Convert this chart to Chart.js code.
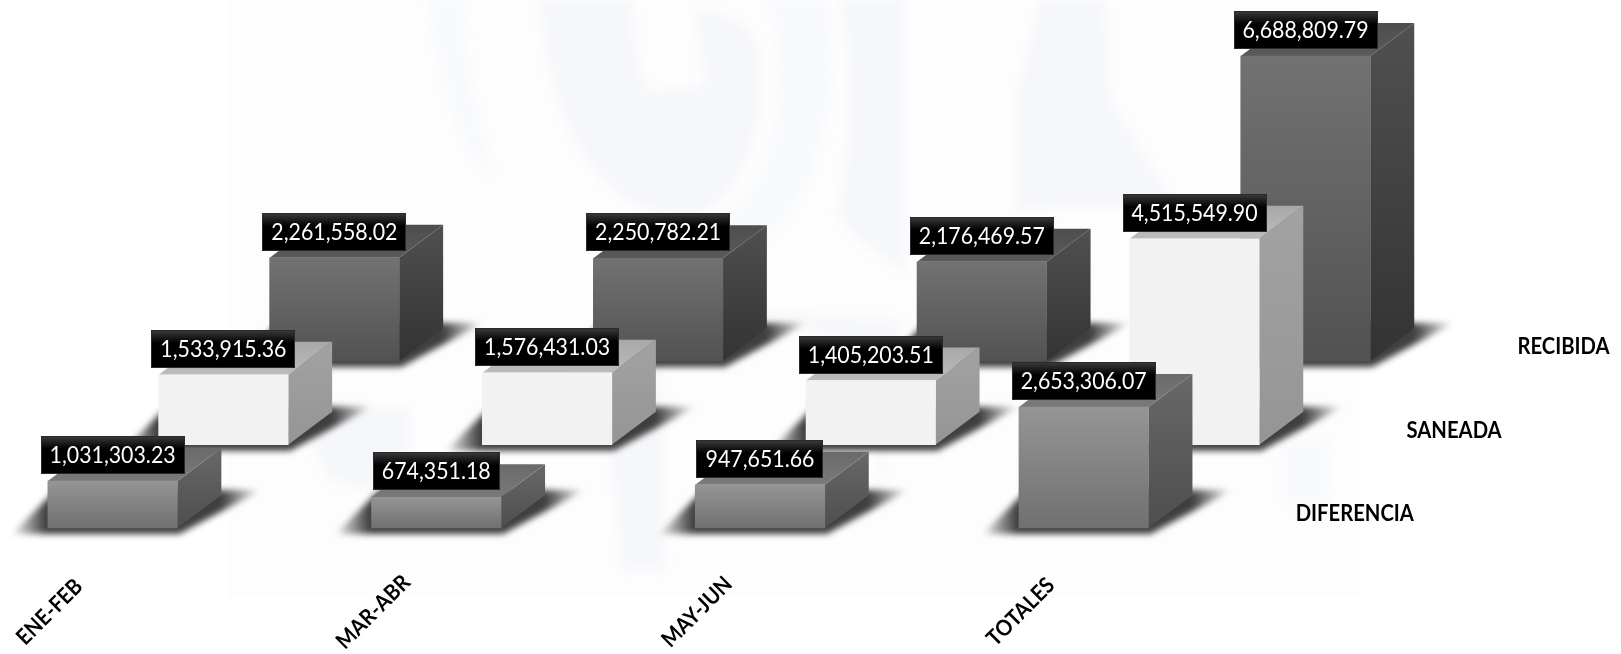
<!DOCTYPE html>
<html><head><meta charset="utf-8">
<style>html,body{margin:0;padding:0;background:#fff}canvas{display:block}</style>
<script src="https://cdn.jsdelivr.net/npm/chart.js@4/dist/chart.umd.min.js"></script>
</head><body><canvas id="c" width="1621" height="654"></canvas>
<script>
const categories = ['ENE-FEB','MAR-ABR','MAY-JUN','TOTALES'];
const seriesNames = ['DIFERENCIA','SANEADA','RECIBIDA'];
const diferencia = [1031303.23, 674351.18, 947651.66, 2653306.07];
const saneada = [1533915.36, 1576431.03, 1405203.51, 4515549.90];
const recibida = [2261558.02, 2250782.21, 2176469.57, 6688809.79];

const W = 1621, H = 654, PXM = 45.6 / 1e6, PITCH = 323.7, DX = 44, DY = 33, NARROW = 0.92;
const rows = [
  {vals: diferencia, cx: 112.6, base: 528,
   front:['#959595','#707070'], side:['#686868','#4e4e4e'], top:['#6a6a6a','#7a7a7a']},
  {vals: saneada, cx: 223.4, base: 444.7,
   front:['#f2f2f2','#f2f2f2'], side:['#a2a2a2','#959595'], top:['#a8a8a8','#bcbcbc']},
  {vals: recibida, cx: 334.4, base: 361,
   front:['#727272','#525252'], side:['#505050','#333333'], top:['#4e4e4e','#5a5a5a']}
];
const fmt = v => v.toLocaleString('en-US',{minimumFractionDigits:2,maximumFractionDigits:2});

const scales = {};
rows.forEach((r,i)=>{
  scales['x'+i] = {type:'linear', display:false, offset:false, grid:{offset:false}, min:-r.cx/PITCH, max:(W-r.cx)/PITCH};
  scales['y'+i] = {type:'linear', display:false, min:(r.base-H)/PXM, max:r.base/PXM};
});

function vGrad(ctx, y0, y1, cols){
  if(!Number.isFinite(y0) || !Number.isFinite(y1)) return cols[0];
  const g = ctx.createLinearGradient(0,y0,0,y1);
  g.addColorStop(0,cols[0]); g.addColorStop(1,cols[1]); return g;
}
function poly(ctx, pts){
  ctx.beginPath(); pts.forEach((p,i)=> i?ctx.lineTo(p[0],p[1]):ctx.moveTo(p[0],p[1])); ctx.closePath();
}
function narrowText(c, t, x, y){
  c.save(); c.translate(x,y); c.scale(NARROW,1); c.fillText(t,0,0); c.restore();
}

const watermark = {
  id:'watermark',
  beforeDraw(chart){
    const c = chart.ctx; c.save();
    c.fillStyle='#fff'; c.fillRect(0,0,W,H);
    c.fillStyle='#fdfdfd'; c.fillRect(228,0,1132,598);
    c.filter='blur(4px)';
    const shape=(col,fn)=>{c.fillStyle=col;c.beginPath();fn();c.closePath();c.fill();};
    const A='#f7f9fc', B='#f6f7fa';
    shape(A,()=>{c.moveTo(430,0);c.bezierCurveTo(440,90,460,150,490,175);c.lineTo(485,140);c.bezierCurveTo(470,100,465,50,463,0);});
    shape(B,()=>{c.moveTo(540,0);c.bezierCurveTo(545,100,590,215,680,215);c.bezierCurveTo(740,215,765,130,760,60);c.bezierCurveTo(755,30,735,10,695,12);c.lineTo(705,85);c.lineTo(650,92);c.bezierCurveTo(635,70,633,30,633,0);});
    shape(A,()=>{c.moveTo(770,0);c.lineTo(825,0);c.bezierCurveTo(850,130,800,270,670,285);c.lineTo(668,240);c.bezierCurveTo(760,230,800,130,770,0);});
    shape(B,()=>{c.moveTo(840,0);c.lineTo(905,0);c.lineTo(905,270);c.bezierCurveTo(880,260,850,230,838,215);c.bezierCurveTo(850,150,855,70,840,0);});
    shape(B,()=>{c.moveTo(1040,0);c.lineTo(1105,0);c.lineTo(1110,100);c.lineTo(1175,205);c.lineTo(1015,210);c.lineTo(1015,100);});
    shape(B,()=>{c.moveTo(600,340);c.lineTo(660,340);c.lineTo(665,570);c.lineTo(622,570);});
    shape(B,()=>{c.moveTo(290,400);c.lineTo(410,410);c.lineTo(410,500);c.lineTo(330,480);});
    shape(B,()=>{c.moveTo(740,310);c.lineTo(900,320);c.lineTo(880,500);c.lineTo(880,350);});
    shape(A,()=>{c.moveTo(1285,440);c.lineTo(1327,440);c.lineTo(1327,505);c.lineTo(1285,505);});
    c.restore();
  }
};

const solid3d = {
  id:'solid3d',
  beforeDatasetDraw(chart, args){
    const c = chart.ctx, row = rows[args.index];
    args.meta.data.forEach(bar=>{
      const w = bar.width, L = bar.x-w/2, R = bar.x+w/2, T = bar.y, B = bar.base;
      c.save();
      c.filter='blur(3px)';
      const g = c.createLinearGradient(L-38,0,R+84,0);
      const span = R+84-(L-38);
      g.addColorStop(0,'rgba(30,30,30,0)');
      g.addColorStop(36/span,'rgba(30,30,30,.85)');
      g.addColorStop((span-40)/span,'rgba(30,30,30,.85)');
      g.addColorStop(1,'rgba(30,30,30,0)');
      c.fillStyle=g;
      poly(c,[[L-36,B+6],[R+2,B+6],[R+84,B-DY-5],[L+8,B-DY-5]]);
      c.fill();
      c.restore();
      c.fillStyle = vGrad(c,T-DY,B,row.side);
      poly(c,[[R,T],[R+DX,T-DY],[R+DX,B-DY],[R,B]]); c.fill();
      c.fillStyle = vGrad(c,T-DY,T,row.top);
      poly(c,[[L,T],[L+DX,T-DY],[R+DX,T-DY],[R,T]]); c.fill();
    });
  },
  afterDatasetsDraw(chart){
    const c = chart.ctx;
    c.save();
    c.font = '23.2px Lato, Carlito, sans-serif';
    c.textAlign='center'; c.textBaseline='middle';
    for(let d=rows.length-1;d>=0;d--){
      chart.getDatasetMeta(d).data.forEach((bar,i)=>{
        const text = fmt(rows[d].vals[i]);
        const w = Math.round(c.measureText(text).width*NARROW)+18, h = 38;
        const x = Math.round(bar.x-w/2), y = Math.round(bar.y-7-h);
        const g = c.createLinearGradient(0,y,0,y+h);
        g.addColorStop(0,'#3c3c3c'); g.addColorStop(.35,'#000'); g.addColorStop(1,'#000');
        c.fillStyle=g; c.fillRect(x,y,w,h);
        c.strokeStyle='#2a2a2a'; c.lineWidth=1; c.strokeRect(x+.5,y+.5,w-1,h-1);
        c.fillStyle='#fff'; narrowText(c,text,bar.x,y+h/2+1);
      });
    }
    c.font='bold 22px Lato, Carlito, sans-serif'; c.fillStyle='#000';
    const x0 = chart.scales.x0;
    categories.forEach((t,i)=>{
      c.save();
      c.translate(x0.getPixelForValue(i)-63, 612);
      c.rotate(-Math.PI/4);
      c.scale(NARROW,1);
      c.fillText(t,0,0);
      c.restore();
    });
    c.textAlign='left';
    rows.forEach((r,d)=>{
      const px = chart.scales['x'+d].getPixelForValue(categories.length-1)+212;
      const py = chart.scales['y'+d].getPixelForValue(0)-14;
      narrowText(c,seriesNames[d],px,py);
    });
    c.restore();
  }
};

new Chart(document.getElementById('c'),{
  type:'bar',
  data:{
    datasets: rows.map((r,d)=>({
      label: seriesNames[d],
      data: r.vals.map((v,i)=>({x:i,y:v})),
      xAxisID:'x'+d, yAxisID:'y'+d,
      barThickness:129.5, grouped:false, borderWidth:0,
      backgroundColor:(ctx)=>{
        const ys = ctx.chart.scales['y'+d];
        if(!ctx.raw) return r.front[0];
        return vGrad(ctx.chart.ctx, ys.getPixelForValue(ctx.raw.y), ys.getPixelForValue(0), r.front);
      }
    }))
  },
  options:{
    responsive:false, animation:false, devicePixelRatio:1,
    layout:{padding:0},
    scales,
    plugins:{legend:{display:false},tooltip:{enabled:false},title:{display:false}}
  },
  plugins:[watermark,solid3d]
});
</script></body></html>
